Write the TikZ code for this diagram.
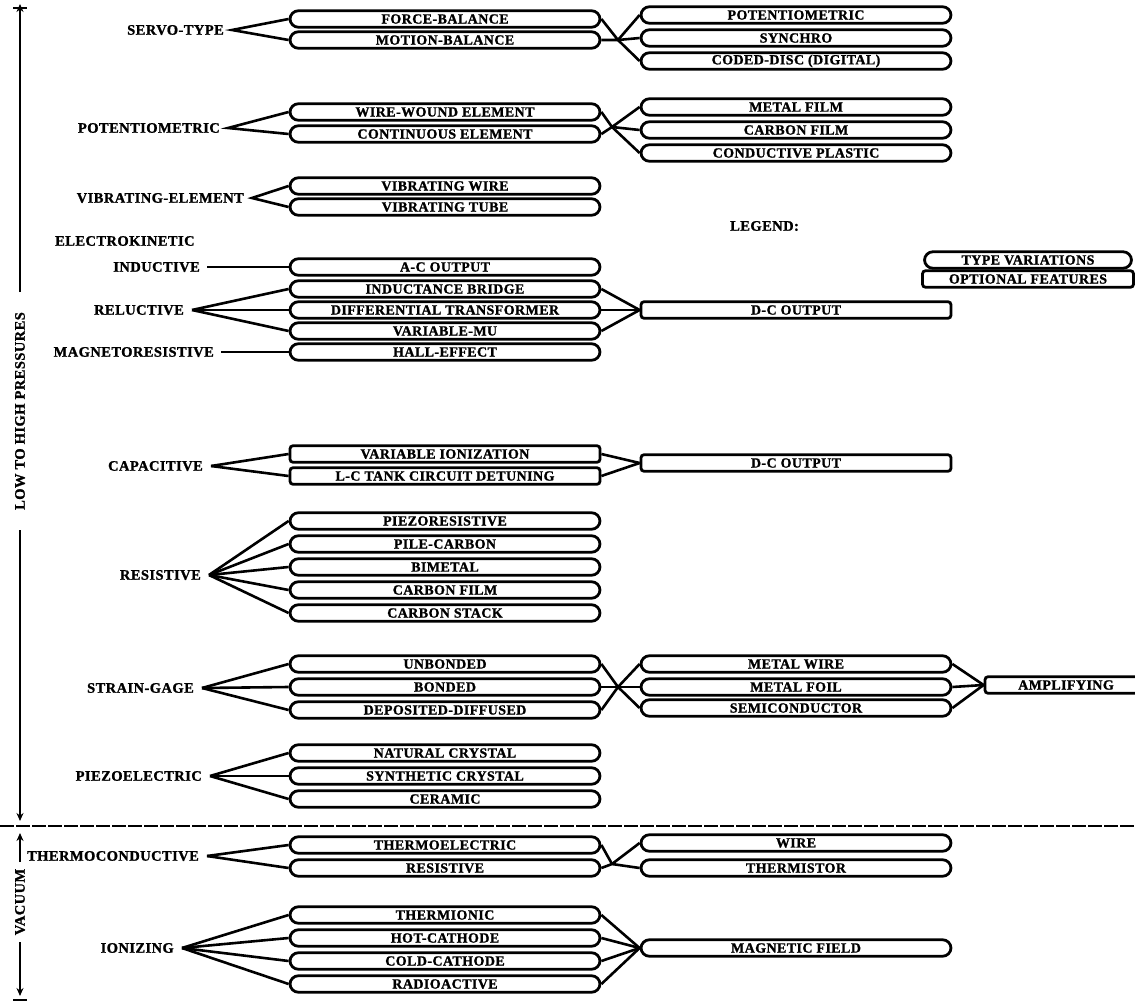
\documentclass[tikz,border=0pt]{standalone}
\usepackage{fontspec}
\setmainfont{Liberation Serif}
\newfontfamily\bx[LetterSpace=3,FakeBold=1.2]{Liberation Serif}
\usetikzlibrary{arrows.meta}
\begin{document}
\begin{tikzpicture}[x=1pt,y=-1pt,
  tv/.style={draw, line width=2.8pt, rounded corners=8.5pt, minimum width=310pt, minimum height=16.5pt, inner sep=0pt, fill=white, font=\fontsize{14}{14}\bx\bfseries},
  of/.style={tv, rounded corners=3pt},
  lbl/.style={font=\fontsize{14.5}{14.5}\bx\bfseries, inner sep=0pt},
  ln/.style={line width=2.6pt},
  ax/.style={line width=2pt},
  tip/.style={-{Stealth[length=8pt,width=7pt]}}
]
\useasboundingbox (0,0) rectangle (1135,1006);

% ---------- axis ----------
\coordinate (axTop) at (20,8);
\coordinate (axTopEnd) at (20,292);
\coordinate (axMidEnd) at (20,530);
\coordinate (axBot) at (20,821);
\node[lbl, rotate=90] (lth) at (20,411) {LOW TO HIGH PRESSURES};
\draw[line width=2.8pt] (13,8) -- (27,8);
\draw[ax,tip] (axTopEnd) -- ([yshift=4pt]axTop);
\draw[ax,tip] (axMidEnd) -- (axBot);
\draw[line width=2.8pt, dash pattern=on 14pt off 2pt] (0,826) -- (1135,826);
\node[lbl, rotate=90] (vac) at (20,902) {VACUUM};
\coordinate (vTop) at (20,833);
\coordinate (vBot) at (20,996);
\draw[ax,tip] (20,862) -- (vTop);
\draw[ax,tip] (20,942) -- (vBot);
\draw[line width=2.8pt] (13,1000) -- (27,1000);

% ---------- servo ----------
\node[lbl,anchor=east] (servo) at (224,30) {SERVO-TYPE};
\coordinate (servoA) at (232,30);
\node[tv] (s1) at (445,19) {FORCE-BALANCE};
\node[tv] (s2) at (445,40) {MOTION-BALANCE};
\coordinate (sJ) at (618,40);
\node[tv] (s3) at (796,15) {POTENTIOMETRIC};
\node[tv] (s4) at (796,38) {SYNCHRO};
\node[tv] (s5) at (796,61) {CODED-DISC (DIGITAL)};
\draw[ln] (s1.west) -- (servoA) -- (s2.west);
\draw[ln] (s1.east) -- (sJ) -- (s2.east);
\draw[ln] (s3.west) -- (sJ) -- (s5.west);
\draw[ln] (sJ) -- (s4.west);

% ---------- potentiometric ----------
\node[lbl,anchor=east] (pot) at (220,128) {POTENTIOMETRIC};
\coordinate (potA) at (228,128);
\node[tv] (p1) at (445,112) {WIRE-WOUND ELEMENT};
\node[tv] (p2) at (445,134) {CONTINUOUS ELEMENT};
\coordinate (pJ) at (612,127);
\node[tv] (p3) at (796,107) {METAL FILM};
\node[tv] (p4) at (796,130) {CARBON FILM};
\node[tv] (p5) at (796,153) {CONDUCTIVE PLASTIC};
\draw[ln] (p1.west) -- (potA) -- (p2.west);
\draw[ln] (p1.east) -- (pJ) -- (p2.east);
\draw[ln] (p3.west) -- (pJ) -- (p5.west);
\draw[ln] (pJ) -- (p4.west);

% ---------- vibrating ----------
\node[lbl,anchor=east] (vib) at (244,198) {VIBRATING-ELEMENT};
\coordinate (vibA) at (252,198);
\node[tv] (v1) at (445,186) {VIBRATING WIRE};
\node[tv] (v2) at (445,207) {VIBRATING TUBE};
\draw[ln] (v1.west) -- (vibA) -- (v2.west);

% ---------- electrokinetic / inductive ----------
\node[lbl,anchor=west] (ek) at (55,241) {ELECTROKINETIC};
\node[lbl,anchor=east] (ind) at (200,267) {INDUCTIVE};
\node[tv] (i1) at (445,267) {A-C OUTPUT};
\draw[ln] ([xshift=7pt]ind.east) -- (i1.west);

% ---------- reluctive ----------
\node[lbl,anchor=east] (rel) at (184,310) {RELUCTIVE};
\coordinate (relA) at (192,310);
\node[tv] (r1) at (445,289) {INDUCTANCE BRIDGE};
\node[tv] (r2) at (445,310) {DIFFERENTIAL TRANSFORMER};
\node[tv] (r3) at (445,331) {VARIABLE-MU};
\node[of] (dc1) at (796,310) {D-C OUTPUT};
\foreach \b in {r1,r2,r3} {\draw[ln] (relA) -- (\b.west); \draw[ln] (\b.east) -- (dc1.west);}

% ---------- magnetoresistive ----------
\node[lbl,anchor=east] (mag) at (214,352) {MAGNETORESISTIVE};
\node[tv] (m1) at (445,352) {HALL-EFFECT};
\draw[ln] ([xshift=7pt]mag.east) -- (m1.west);

% ---------- capacitive ----------
\node[lbl,anchor=east] (cap) at (203,466) {CAPACITIVE};
\coordinate (capA) at (211,466);
\node[of] (c1) at (445,454) {VARIABLE IONIZATION};
\node[of] (c2) at (445,476) {L-C TANK CIRCUIT DETUNING};
\node[of] (dc2) at (796,463) {D-C OUTPUT};
\foreach \b in {c1,c2} {\draw[ln] (capA) -- (\b.west); \draw[ln] (\b.east) -- (dc2.west);}

% ---------- resistive ----------
\node[lbl,anchor=east] (res) at (201,575) {RESISTIVE};
\coordinate (resA) at (209,575);
\node[tv] (q1) at (445,521) {PIEZORESISTIVE};
\node[tv] (q2) at (445,544) {PILE-CARBON};
\node[tv] (q3) at (445,567) {BIMETAL};
\node[tv] (q4) at (445,590) {CARBON FILM};
\node[tv] (q5) at (445,613) {CARBON STACK};
\foreach \b in {q1,q2,q3,q4,q5} {\draw[ln] (resA) -- (\b.west);}

% ---------- strain-gage ----------
\node[lbl,anchor=east] (sg) at (194,688) {STRAIN-GAGE};
\coordinate (sgA) at (202,688);
\node[tv] (g1) at (445,664) {UNBONDED};
\node[tv] (g2) at (445,687) {BONDED};
\node[tv] (g3) at (445,710) {DEPOSITED-DIFFUSED};
\coordinate (gJ) at (618,687);
\node[tv] (g4) at (796,664) {METAL WIRE};
\node[tv] (g5) at (796,687) {METAL FOIL};
\node[tv] (g6) at (796,708) {SEMICONDUCTOR};
\node[of, minimum width=162pt] (amp) at (1066,685) {AMPLIFYING};
\foreach \b in {g1,g2,g3} {\draw[ln] (sgA) -- (\b.west); \draw[ln] (\b.east) -- (gJ);}
\foreach \b in {g4,g5,g6} {\draw[ln] (gJ) -- (\b.west); \draw[ln] (\b.east) -- (amp.west);}

% ---------- piezoelectric ----------
\node[lbl,anchor=east] (pz) at (202,776) {PIEZOELECTRIC};
\coordinate (pzA) at (210,776);
\node[tv] (z1) at (445,753) {NATURAL CRYSTAL};
\node[tv] (z2) at (445,776) {SYNTHETIC CRYSTAL};
\node[tv] (z3) at (445,799) {CERAMIC};
\foreach \b in {z1,z2,z3} {\draw[ln] (pzA) -- (\b.west);}

% ---------- thermoconductive ----------
\node[lbl,anchor=east] (th) at (199,856) {THERMOCONDUCTIVE};
\coordinate (thA) at (207,856);
\node[tv] (t1) at (445,845) {THERMOELECTRIC};
\node[tv] (t2) at (445,868) {RESISTIVE};
\coordinate (tJ) at (612,864);
\node[tv] (t3) at (796,843) {WIRE};
\node[tv] (t4) at (796,868) {THERMISTOR};
\foreach \b in {t1,t2} {\draw[ln] (thA) -- (\b.west); \draw[ln] (\b.east) -- (tJ);}
\foreach \b in {t3,t4} {\draw[ln] (tJ) -- (\b.west);}

% ---------- ionizing ----------
\node[lbl,anchor=east] (ion) at (174,948) {IONIZING};
\coordinate (ionA) at (182,948);
\node[tv] (n1) at (445,915) {THERMIONIC};
\node[tv] (n2) at (445,938) {HOT-CATHODE};
\node[tv] (n3) at (445,961) {COLD-CATHODE};
\node[tv] (n4) at (445,984) {RADIOACTIVE};
\node[tv] (mf) at (796,948) {MAGNETIC FIELD};
\foreach \b in {n1,n2,n3,n4} {\draw[ln] (ionA) -- (\b.west); \draw[ln] (\b.east) -- (mf.west);}

% ---------- legend ----------
\node[lbl,anchor=west] (leg) at (730,226) {LEGEND:};
\node[tv, minimum width=207pt, font=\fontsize{14}{14}\bx\bfseries] (legT) at (1028,260) {TYPE VARIATIONS};
\node[of, minimum width=211pt, font=\fontsize{14}{14}\bx\bfseries] (legO) at (1028,279) {OPTIONAL FEATURES};
\end{tikzpicture}
\end{document}
